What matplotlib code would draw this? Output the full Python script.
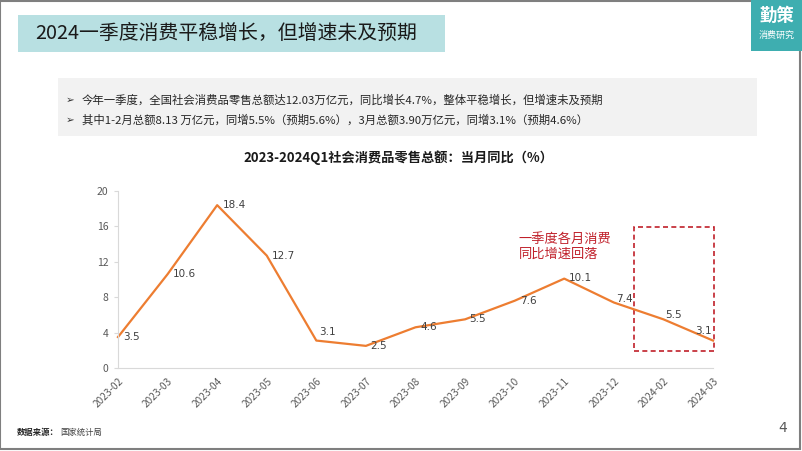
import matplotlib
matplotlib.use("Agg")
import matplotlib.pyplot as plt
from matplotlib.patches import Rectangle

plt.rcParams['font.family'] = ['Noto Sans CJK SC', 'DejaVu Sans']

# 数据
months = ["2023-02", "2023-03", "2023-04", "2023-05", "2023-06", "2023-07", "2023-08",
          "2023-09", "2023-10", "2023-11", "2023-12", "2024-02", "2024-03"]
yoy = [3.5, 10.6, 18.4, 12.7, 3.1, 2.5, 4.6, 5.5, 7.6, 10.1, 7.4, 5.5, 3.1]
yticks = [0, 4, 8, 12, 16, 20]

page_title = "2024一季度消费平稳增长，但增速未及预期"
bullets = ["今年一季度，全国社会消费品零售总额达12.03万亿元，同比增长4.7%，整体平稳增长，但增速未及预期",
           "其中1-2月总额8.13 万亿元，同增5.5%（预期5.6%），3月总额3.90万亿元，同增3.1%（预期4.6%）"]
chart_title = "2023-2024Q1社会消费品零售总额：当月同比（%）"
note = "一季度各月消费\n同比增速回落"
source_head = "数据来源："
source_body = "国家统计局"

W, H = 802, 451
fig = plt.figure(figsize=(W / 100, H / 100), dpi=100)
fig.patch.set_facecolor("white")


def fx(px):
    return px / W


def fy(py):
    return 1 - py / H


# 外框
fig.patches.append(Rectangle((0, fy(449)), fx(800), fy(1) - fy(449), transform=fig.transFigure,
                             fill=False, edgecolor="#7f7f7f", linewidth=1.5))

# 标题栏
fig.patches.append(Rectangle((fx(18), fy(52)), fx(427), fy(15) - fy(52), transform=fig.transFigure,
                             facecolor="#b8e0e2", edgecolor="none"))
fig.text(fx(35), fy(33.5), page_title, fontsize=14.3, color="#1a1a1a", va="center", ha="left")

# logo
fig.patches.append(Rectangle((fx(751), fy(51)), fx(51), fy(0) - fy(51), transform=fig.transFigure,
                             facecolor="#3eaeb0", edgecolor="none"))
fig.text(fx(777), fy(16), "勤策", fontsize=12.5, color="white", ha="center", va="center", weight="bold")
fig.text(fx(777), fy(35), "消费研究", fontsize=6.5, color="white", ha="center", va="center")

# 要点框
fig.patches.append(Rectangle((fx(58), fy(136)), fx(699), fy(78) - fy(136), transform=fig.transFigure,
                             facecolor="#f2f2f2", edgecolor="none"))
for i, b in enumerate(bullets):
    y = fy(100 + i * 20)
    fig.text(fx(66), y, "➢", fontsize=7.5, color="#333333", va="center", family=["DejaVu Sans"])
    fig.text(fx(82), y, b, fontsize=8.2, color="#262626", va="center")

# 图表
ax = fig.add_axes([fx(118), fy(368), fx(713) - fx(118), fy(191) - fy(368)])
x = list(range(len(months)))
ax.plot(x, yoy, color="#ed7d31", linewidth=1.6, clip_on=False)
ax.set_xlim(0, len(months) - 1)
ax.set_ylim(0, 20)
ax.set_yticks(yticks)
ax.set_xticks(x)
ax.set_xticklabels(months, rotation=45, ha="right", rotation_mode="anchor")
ax.tick_params(axis="x", length=0, labelsize=7.3, labelcolor="#595959", pad=6)
ax.tick_params(axis="y", length=3, color="#d9d9d9", labelsize=7.5, labelcolor="#595959", pad=4)
for s in ["top", "right"]:
    ax.spines[s].set_visible(False)
ax.spines["left"].set_color("#d9d9d9")
ax.spines["bottom"].set_color("#d9d9d9")
ax.patch.set_alpha(0)

# 数据标签 (偏移, 像素)
offsets = [(5, 0), (5, 0), (6, 0), (5, 0), (3, 9), (4, 0), (5, 0), (4, 0), (5, 0), (5, 1), (2, 4), (2, 4), (-18, 10)]
for xi, v, (dx, dy) in zip(x, yoy, offsets):
    ax.annotate(f"{v}", (xi, v), xytext=(dx * 0.72, dy * 0.72), textcoords="offset points",
                fontsize=7.5, color="#404040", ha="left", va="center", family=["DejaVu Sans"])

# 虚线框
ax.add_patch(Rectangle((10.41, 1.9), 12.02 - 10.41, 15.95 - 1.9, fill=False, edgecolor="#c0202a",
                       linestyle=(0, (3, 2)), linewidth=1.2, clip_on=False))
ax.text(8.08, 13.7, note, fontsize=9.5, color="#c0202a", ha="left", va="center", linespacing=1.15)

fig.text(fx(398), fy(158), chart_title, fontsize=9.5, weight="bold", color="#1a1a1a", ha="center", va="center")

fig.text(fx(17), fy(432), source_head, fontsize=6, color="#262626", va="center", weight="bold")
fig.text(fx(60), fy(432), source_body, fontsize=6, color="#404040", va="center")
fig.text(fx(778), fy(428), "4", fontsize=10, color="#595959", va="center", family=["DejaVu Sans"])

fig.savefig("out.png", dpi=100, facecolor="white")
